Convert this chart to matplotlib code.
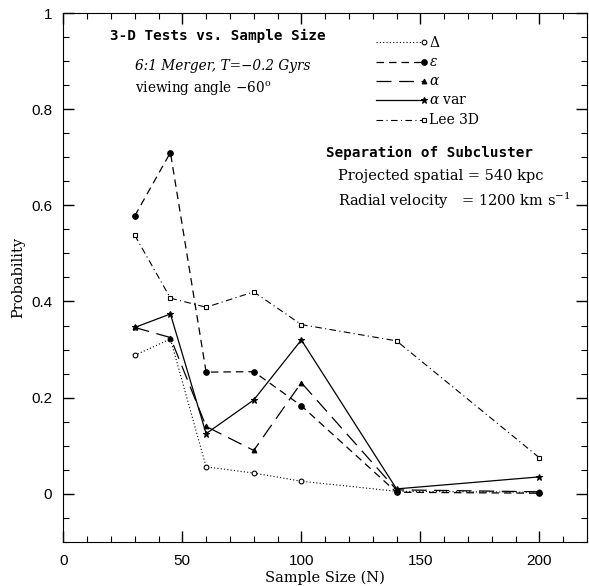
import matplotlib.pyplot as plt
from matplotlib.ticker import MultipleLocator

# sample sizes
N = [30, 45, 60, 80, 100, 140, 200]

# probabilities for each test
delta = [0.288, 0.322, 0.056, 0.043, 0.026, 0.005, 0.003]
epsilon = [0.578, 0.710, 0.253, 0.254, 0.183, 0.003, 0.001]
alpha = [0.346, 0.325, 0.140, 0.090, 0.231, 0.008, 0.004]
alpha_var = [0.346, 0.374, 0.125, 0.195, 0.320, 0.010, 0.035]
lee3d = [0.538, 0.407, 0.388, 0.420, 0.352, 0.318, 0.075]

labels = [r'$\Delta$', r'$\epsilon$', r'$\alpha$', r'$\alpha$ var', 'Lee 3D']

plt.rcParams['font.family'] = 'DejaVu Serif'
plt.rcParams['mathtext.fontset'] = 'dejavuserif'

fig = plt.figure(figsize=(5.89, 5.86), dpi=100)
ax = fig.add_axes([0.1075, 0.0755, 0.889, 0.902])

styles = [
    dict(ls=(0, (1, 2)), marker='o', mfc='white', ms=3.4, lw=0.8),
    dict(ls=(0, (6, 4)), marker='o', mfc='black', ms=4, lw=0.9),
    dict(ls=(0, (12, 6)), marker='^', mfc='black', ms=3.4, lw=0.9),
    dict(ls='-', marker='*', mfc='black', ms=4.5, lw=0.9),
    dict(ls=(0, (6, 3, 1, 3)), marker='s', mfc='white', ms=2.8, lw=0.8),
]
series = [delta, epsilon, alpha, alpha_var, lee3d]

for vals, st in zip(series, styles):
    ax.plot(N, vals, color='black', mec='black', mew=0.8, **st)

# hand-drawn legend with the marker at the right end of the line
for i, (lab, st) in enumerate(zip(labels, styles)):
    y = 0.945 - i * 0.0367
    ax.plot([0.597, 0.688], [y, y], transform=ax.transAxes, color='black',
            ls=st['ls'], lw=st['lw'])
    ax.plot([0.688], [y], transform=ax.transAxes, color='black', mec='black',
            marker=st['marker'], mfc=st['mfc'], ms=st['ms'], mew=0.8)
    ax.text(0.698, y, lab, transform=ax.transAxes, fontsize=10, va='center')

ax.text(0.09, 0.957, '3-D Tests vs. Sample Size', transform=ax.transAxes,
        fontsize=10.3, fontweight='bold', family='DejaVu Sans Mono', va='center')
ax.text(0.137, 0.9, '6:1 Merger, T=−0.2 Gyrs', transform=ax.transAxes,
        fontsize=9.8, style='italic', va='center')
ax.text(0.137, 0.857, r'viewing angle $-$60$^{\rm o}$', transform=ax.transAxes,
        fontsize=9.8, va='center')
ax.text(0.502, 0.735, 'Separation of Subcluster', transform=ax.transAxes,
        fontsize=10.3, fontweight='bold', family='DejaVu Sans Mono', va='center')
ax.text(0.524, 0.692, 'Projected spatial = 540 kpc', transform=ax.transAxes,
        fontsize=10.5, va='center')
ax.text(0.524, 0.645, r'Radial velocity   = 1200 km s$^{-1}$', transform=ax.transAxes,
        fontsize=10.5, va='center')

ax.set_xlim(0, 220)
ax.set_ylim(-0.1, 1.0)
ax.xaxis.set_minor_locator(MultipleLocator(10))
ax.yaxis.set_minor_locator(MultipleLocator(0.05))
ax.set_yticks([0, 0.2, 0.4, 0.6, 0.8, 1.0])
ax.set_yticklabels(['0', '0.2', '0.4', '0.6', '0.8', '1'])
ax.set_xticks([0, 50, 100, 150, 200])
ax.set_xticklabels(['0', '50', '100', '150', '200'])
ax.tick_params(which='both', direction='in', top=True, right=True)
ax.tick_params(which='major', length=8, width=1)
ax.tick_params(which='minor', length=4, width=0.8)
for lab in ax.get_xticklabels() + ax.get_yticklabels():
    lab.set_family('Liberation Sans')
    lab.set_fontsize(11)
ax.tick_params(axis='y', pad=8)
ax.tick_params(axis='x', pad=9)

ax.set_xlabel('Sample Size (N)', fontsize=10.5, labelpad=2)
ax.set_ylabel('Probability', fontsize=10.5, labelpad=4)

fig.savefig('out.png', dpi=100)
